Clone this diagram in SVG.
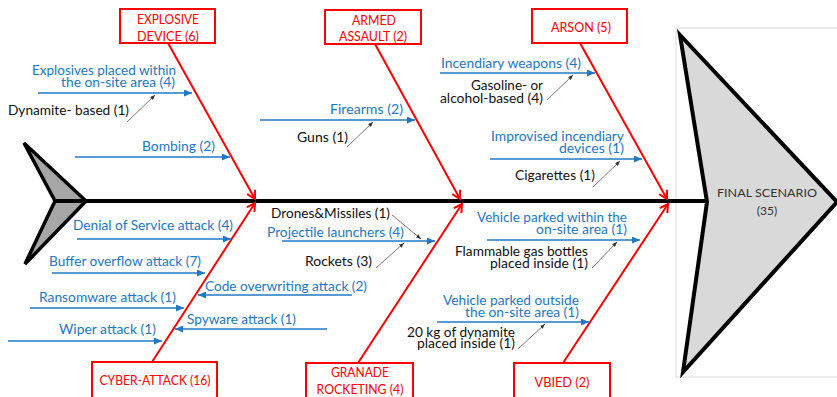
<svg xmlns="http://www.w3.org/2000/svg" width="837" height="397" viewBox="0 0 837 397">
<style>
text{font-family:Lato,"Liberation Sans",sans-serif;font-size:13px}
.b{fill:#2278c4}
.k{fill:#111}
.r{fill:#ff0000;text-anchor:middle}
.f{fill:#333;text-anchor:middle;font-size:12px}
.bl{stroke:#2278c4;stroke-width:1.6;fill:none;marker-end:url(#ab)}
.rl{stroke:#ff0000;stroke-width:2;fill:none;marker-end:url(#ar)}
.gl{stroke:#555;stroke-width:0.8;fill:none;marker-end:url(#ag)}
.box{fill:#fff;stroke:#ff0000;stroke-width:2}
</style>
<defs>
<marker id="ab" markerUnits="userSpaceOnUse" markerWidth="8" markerHeight="7" refX="8" refY="3.5" orient="auto"><path d="M0,0 L8,3.5 L0,7 z" fill="#2278c4"/></marker>
<marker id="ar" markerUnits="userSpaceOnUse" markerWidth="12" markerHeight="12" refX="9" refY="6" orient="auto" overflow="visible"><path d="M1,1.5 L9,6 L1,10.5" fill="none" stroke="#ff0000" stroke-width="2"/></marker>
<marker id="ag" markerUnits="userSpaceOnUse" markerWidth="5" markerHeight="4" refX="5" refY="2" orient="auto"><path d="M0,0 L5,2 L0,4 z" fill="#333"/></marker>
</defs>
<rect width="837" height="397" fill="#fff"/>
<rect x="676" y="28" width="170" height="349" fill="none" stroke="#dcdcdc" stroke-width="1"/>

<g id="tail"><polygon points="24,143 86,201 25,264 55,201" fill="#a6a6a6" stroke="#000" stroke-width="3.5" stroke-linejoin="miter"/></g>
<g id="final-scenario">
<polygon points="680,35 837,202 683,372 707,202" fill="#d9d9d9" stroke="#000" stroke-width="4"/>
<text class="f" x="767" y="197" textLength="100" lengthAdjust="spacingAndGlyphs">FINAL SCENARIO</text>
<text class="f" x="767" y="215">(35)</text>
</g>

<g id="connectors">
<line x1="55" y1="201" x2="707" y2="201" stroke="#000" stroke-width="4"/>
<line class="rl" x1="168" y1="43" x2="255" y2="199"/>
<line class="rl" x1="375" y1="44" x2="460" y2="199"/>
<line class="rl" x1="580" y1="43" x2="667" y2="199"/>
<line class="rl" x1="152" y1="362" x2="255" y2="203"/>
<line class="rl" x1="358" y1="363" x2="462" y2="204"/>
<line class="rl" x1="563" y1="363" x2="668" y2="204"/>
<line class="bl" x1="38" y1="93" x2="192" y2="93"/>
<line class="bl" x1="75" y1="157" x2="230" y2="157"/>
<line class="bl" x1="260" y1="120" x2="415" y2="120"/>
<line class="bl" x1="440" y1="73" x2="595" y2="73"/>
<line class="bl" x1="490" y1="159" x2="642" y2="159"/>
<line class="bl" x1="77" y1="239" x2="231" y2="239"/>
<line class="bl" x1="52" y1="273" x2="205" y2="273"/>
<line class="bl" x1="352" y1="295" x2="198" y2="295"/>
<line class="bl" x1="30" y1="308" x2="184" y2="308"/>
<line class="bl" x1="327" y1="329" x2="175" y2="329"/>
<line class="bl" x1="8" y1="341" x2="162" y2="341"/>
<line class="bl" x1="282" y1="241" x2="435" y2="241"/>
<line class="bl" x1="487" y1="240" x2="640" y2="240"/>
<line class="bl" x1="437" y1="322" x2="589" y2="322"/>
<line class="gl" x1="127" y1="122" x2="155" y2="95"/>
<line class="gl" x1="347" y1="147" x2="373" y2="122"/>
<line class="gl" x1="547" y1="100" x2="573" y2="75"/>
<line class="gl" x1="593" y1="187" x2="620" y2="161"/>
<line class="gl" x1="392" y1="215" x2="421" y2="239"/>
<line class="gl" x1="376" y1="268" x2="404" y2="243"/>
<line class="gl" x1="592" y1="268" x2="617" y2="242"/>
<line class="gl" x1="518" y1="349" x2="545" y2="324"/>
</g>

<g id="explosive-device">
<rect class="box" x="120" y="9" width="95" height="34"/>
<text class="r" x="168" y="24" textLength="62" lengthAdjust="spacingAndGlyphs">EXPLOSIVE</text>
<text class="r" x="168" y="41" textLength="62" lengthAdjust="spacingAndGlyphs">DEVICE (6)</text>
</g>
<g id="armed-assault">
<rect class="box" x="325" y="10" width="96" height="34"/>
<text class="r" x="374" y="25" textLength="44" lengthAdjust="spacingAndGlyphs">ARMED</text>
<text class="r" x="373" y="41" textLength="68" lengthAdjust="spacingAndGlyphs">ASSAULT (2)</text>
</g>
<g id="arson">
<rect class="box" x="532" y="9" width="95" height="34"/>
<text class="r" x="581" y="32" textLength="60" lengthAdjust="spacingAndGlyphs">ARSON (5)</text>
</g>
<g id="cyber-attack">
<rect class="box" x="92" y="362" width="125" height="40"/>
<text class="r" x="155" y="385" textLength="111" lengthAdjust="spacingAndGlyphs">CYBER-ATTACK (16)</text>
</g>
<g id="granade-rocketing">
<rect class="box" x="306" y="363" width="107" height="40"/>
<text class="r" x="360" y="377" textLength="58" lengthAdjust="spacingAndGlyphs">GRANADE</text>
<text class="r" x="360" y="394" textLength="87" lengthAdjust="spacingAndGlyphs">ROCKETING (4)</text>
</g>
<g id="vbied">
<rect class="box" x="514" y="363" width="96" height="40"/>
<text class="r" x="562" y="387" textLength="55" lengthAdjust="spacingAndGlyphs">VBIED (2)</text>
</g>

<g id="explosives-placed-within">
<text class="b" x="32" y="75" textLength="144" lengthAdjust="spacingAndGlyphs">Explosives placed within</text>
<text class="b" x="61" y="87" textLength="114" lengthAdjust="spacingAndGlyphs">the on-site area (4)</text>
</g>
<g id="dynamite-based"><text class="k" x="8" y="115" textLength="121" lengthAdjust="spacingAndGlyphs">Dynamite- based (1)</text></g>
<g id="bombing"><text class="b" x="142" y="151" textLength="73" lengthAdjust="spacingAndGlyphs">Bombing (2)</text></g>
<g id="firearms"><text class="b" x="330" y="114" textLength="73" lengthAdjust="spacingAndGlyphs">Firearms (2)</text></g>
<g id="guns"><text class="k" x="297" y="142" textLength="51" lengthAdjust="spacingAndGlyphs">Guns (1)</text></g>
<g id="incendiary-weapons"><text class="b" x="441" y="68" textLength="140" lengthAdjust="spacingAndGlyphs">Incendiary weapons (4)</text></g>
<g id="gasoline">
<text class="k" x="471" y="90" textLength="72" lengthAdjust="spacingAndGlyphs">Gasoline- or</text>
<text class="k" x="440" y="103" textLength="103" lengthAdjust="spacingAndGlyphs">alcohol-based (4)</text>
</g>
<g id="improvised-incendiary">
<text class="b" x="491" y="141" textLength="133" lengthAdjust="spacingAndGlyphs">Improvised incendiary</text>
<text class="b" x="559" y="153" textLength="65" lengthAdjust="spacingAndGlyphs">devices (1)</text>
</g>
<g id="cigarettes"><text class="k" x="515" y="180" textLength="80" lengthAdjust="spacingAndGlyphs">Cigarettes (1)</text></g>

<g id="denial-of-service"><text class="b" x="73" y="230" textLength="160" lengthAdjust="spacingAndGlyphs">Denial of Service attack (4)</text></g>
<g id="buffer-overflow"><text class="b" x="49" y="266" textLength="152" lengthAdjust="spacingAndGlyphs">Buffer overflow attack (7)</text></g>
<g id="code-overwriting"><text class="b" x="205" y="291" textLength="162" lengthAdjust="spacingAndGlyphs">Code overwriting attack (2)</text></g>
<g id="ransomware"><text class="b" x="39" y="302" textLength="137" lengthAdjust="spacingAndGlyphs">Ransomware attack (1)</text></g>
<g id="spyware"><text class="b" x="187" y="324" textLength="109" lengthAdjust="spacingAndGlyphs">Spyware attack (1)</text></g>
<g id="wiper"><text class="b" x="59" y="334" textLength="97" lengthAdjust="spacingAndGlyphs">Wiper attack (1)</text></g>

<g id="drones-missiles"><text class="k" x="271" y="218" textLength="119" lengthAdjust="spacingAndGlyphs">Drones&amp;Missiles (1)</text></g>
<g id="projectile-launchers"><text class="b" x="267" y="237" textLength="137" lengthAdjust="spacingAndGlyphs">Projectile launchers (4)</text></g>
<g id="rockets"><text class="k" x="305" y="266" textLength="67" lengthAdjust="spacingAndGlyphs">Rockets (3)</text></g>

<g id="vehicle-within">
<text class="b" x="477" y="222" textLength="150" lengthAdjust="spacingAndGlyphs">Vehicle parked within the</text>
<text class="b" x="536" y="234" textLength="91" lengthAdjust="spacingAndGlyphs">on-site area (1)</text>
</g>
<g id="flammable-gas">
<text class="k" x="455" y="256" textLength="133" lengthAdjust="spacingAndGlyphs">Flammable gas bottles</text>
<text class="k" x="490" y="268" textLength="98" lengthAdjust="spacingAndGlyphs">placed inside (1)</text>
</g>
<g id="vehicle-outside">
<text class="b" x="443" y="305" textLength="136" lengthAdjust="spacingAndGlyphs">Vehicle parked outside</text>
<text class="b" x="465" y="317" textLength="114" lengthAdjust="spacingAndGlyphs">the on-site area (1)</text>
</g>
<g id="dynamite-20kg">
<text class="k" x="407" y="337" textLength="108" lengthAdjust="spacingAndGlyphs">20 kg of dynamite</text>
<text class="k" x="417" y="348" textLength="98" lengthAdjust="spacingAndGlyphs">placed inside (1)</text>
</g>
</svg>
